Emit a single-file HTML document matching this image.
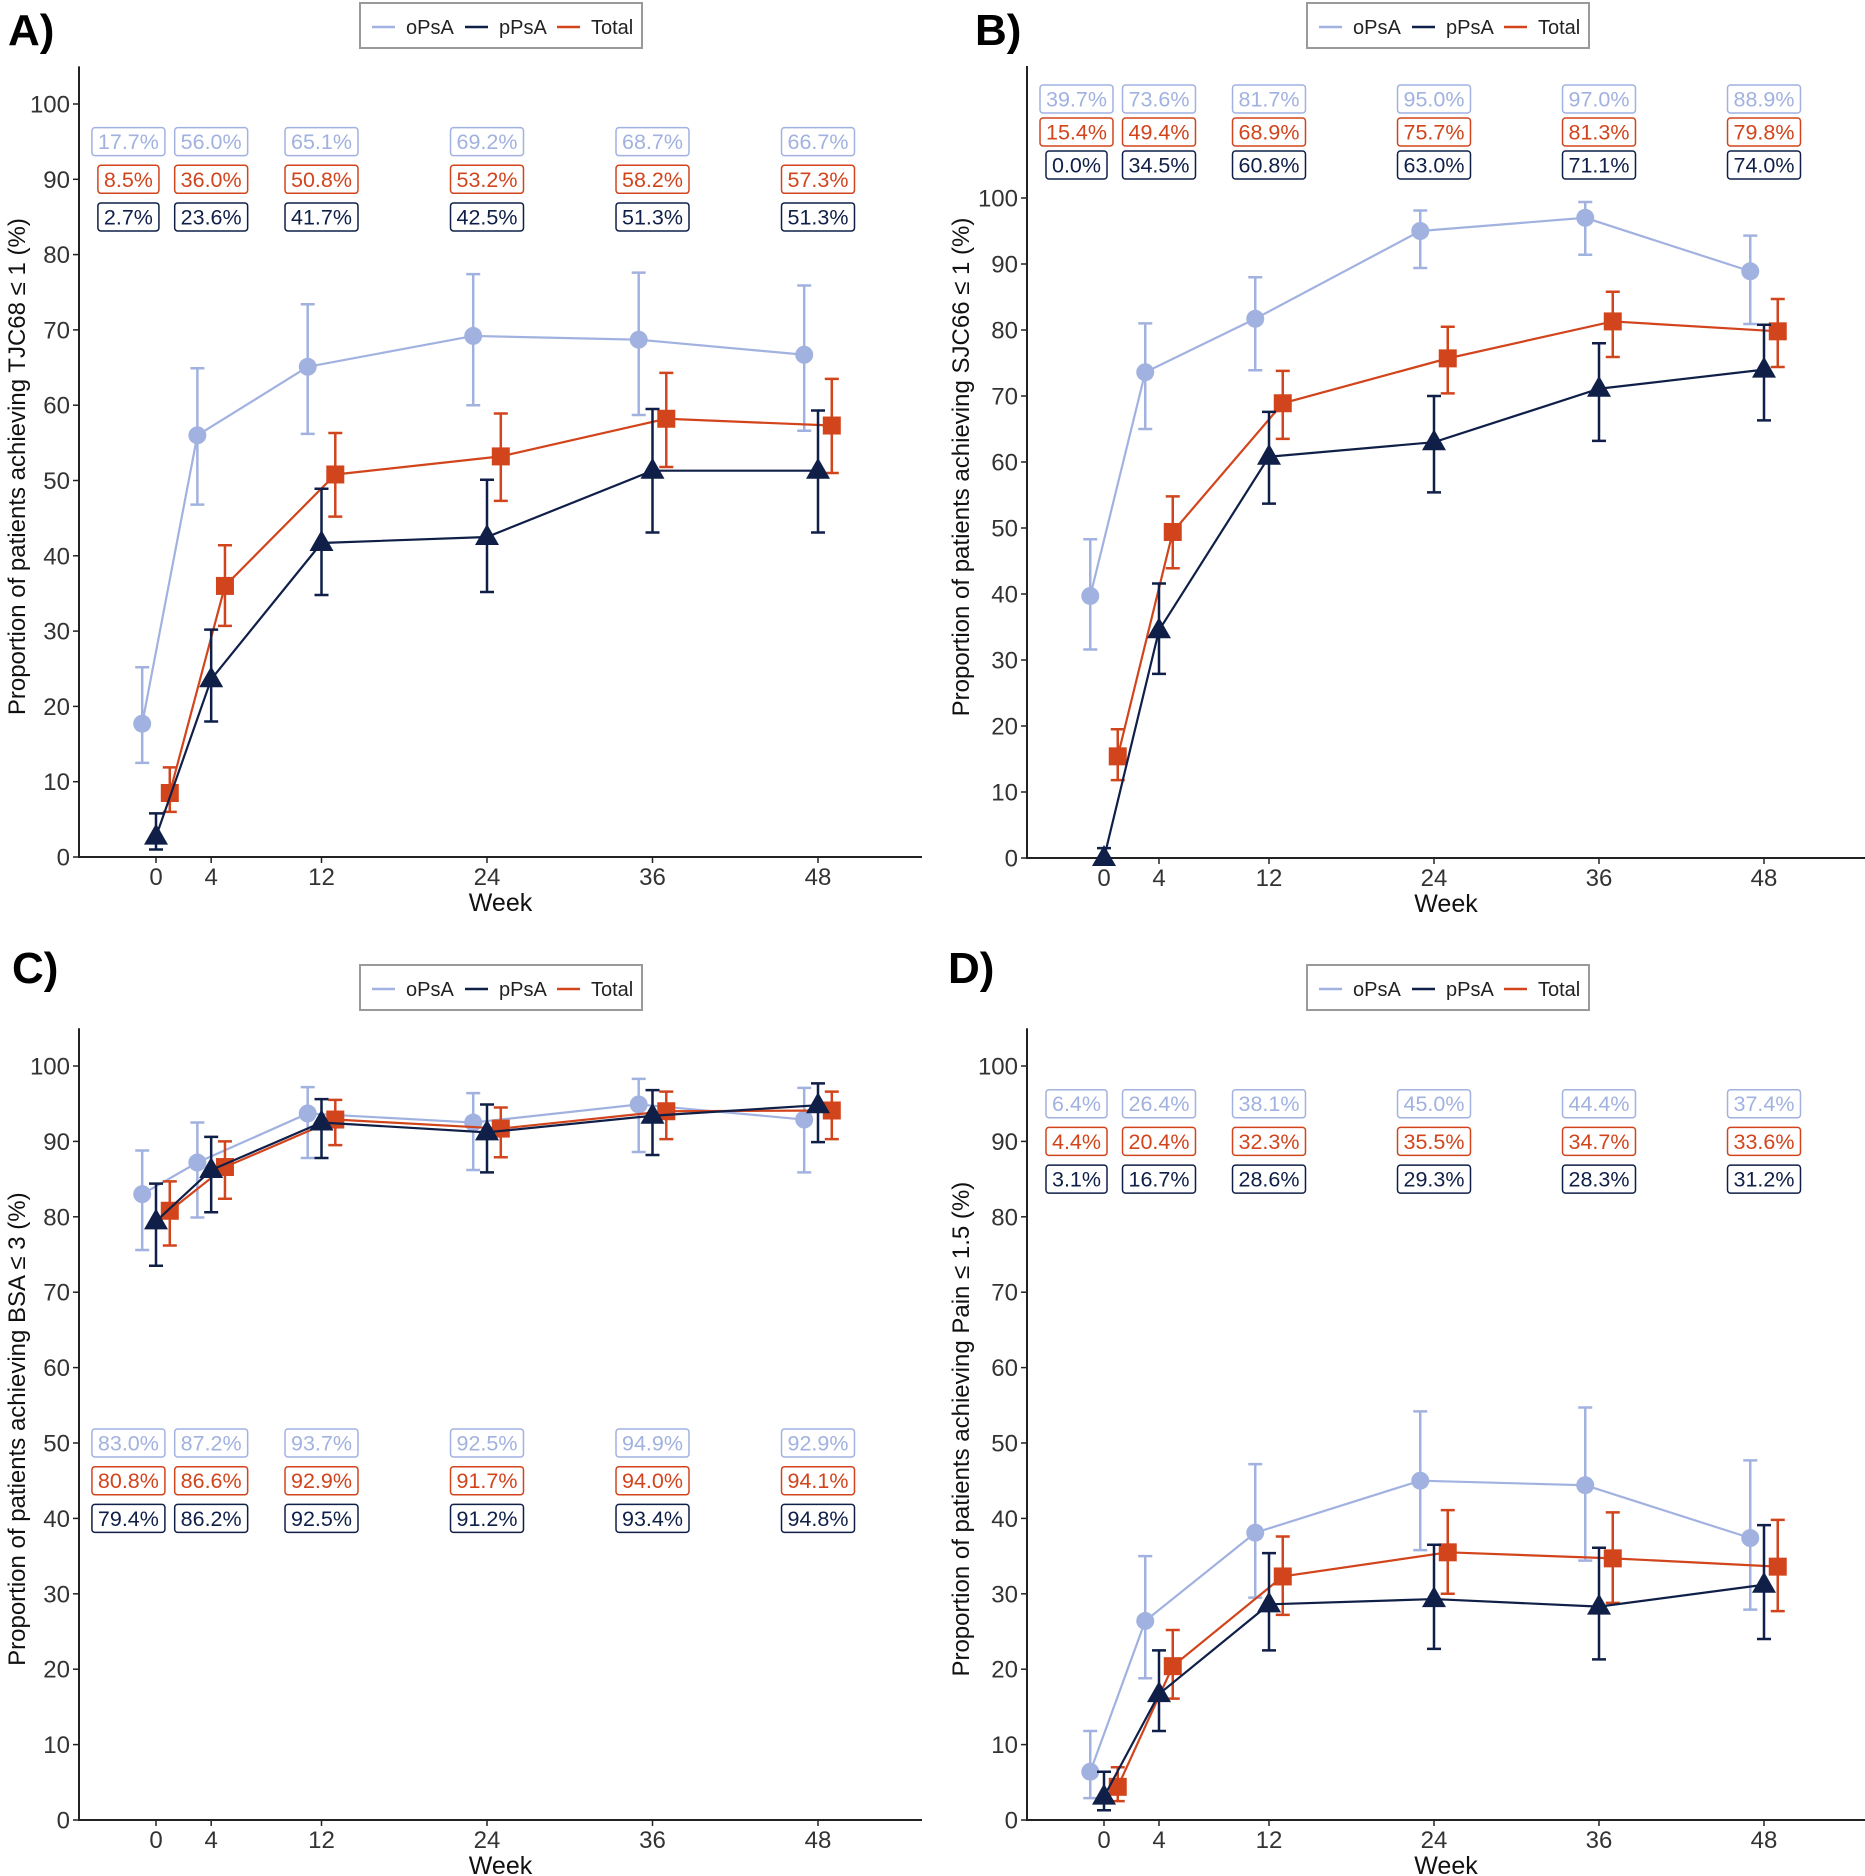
<!DOCTYPE html>
<html><head><meta charset="utf-8"><style>
html,body{margin:0;padding:0;background:#fff;}
svg{display:block;font-family:"Liberation Sans",Arial,sans-serif;}
</style></head><body>
<svg id="chart" width="1865" height="1876" viewBox="0 0 1865 1876" xmlns="http://www.w3.org/2000/svg"></svg>
<script>
const weeks = [0, 4, 12, 24, 36, 48];
const seriesNames = ["oPsA", "pPsA", "Total"];
// Panel A (TJC68)
const aOpsa = [17.7, 56.0, 65.1, 69.2, 68.7, 66.7];
const aOpsaLo = [12.5, 46.8, 56.2, 60.0, 58.7, 56.6];
const aOpsaHi = [25.2, 64.9, 73.4, 77.4, 77.6, 75.9];
const aPpsa = [2.7, 23.6, 41.7, 42.5, 51.3, 51.3];
const aPpsaLo = [1.0, 18.0, 34.8, 35.2, 43.1, 43.1];
const aPpsaHi = [5.8, 30.2, 48.9, 50.1, 59.5, 59.3];
const aTotal = [8.5, 36.0, 50.8, 53.2, 58.2, 57.3];
const aTotalLo = [6.0, 30.7, 45.2, 47.3, 51.8, 51.0];
const aTotalHi = [11.9, 41.4, 56.3, 58.9, 64.3, 63.5];
// Panel B (SJC66)
const bOpsa = [39.7, 73.6, 81.7, 95.0, 97.0, 88.9];
const bOpsaLo = [31.6, 65.0, 73.9, 89.4, 91.4, 80.9];
const bOpsaHi = [48.3, 81.0, 88.0, 98.1, 99.4, 94.3];
const bPpsa = [0.0, 34.5, 60.8, 63.0, 71.1, 74.0];
const bPpsaLo = [0.0, 27.9, 53.7, 55.4, 63.2, 66.3];
const bPpsaHi = [1.5, 41.6, 67.6, 70.0, 78.0, 80.8];
const bTotal = [15.4, 49.4, 68.9, 75.7, 81.3, 79.8];
const bTotalLo = [11.8, 43.9, 63.5, 70.4, 75.9, 74.4];
const bTotalHi = [19.5, 54.8, 73.8, 80.5, 85.8, 84.7];
// Panel C (BSA)
const cOpsa = [83.0, 87.2, 93.7, 92.5, 94.9, 92.9];
const cOpsaLo = [75.6, 79.9, 87.8, 86.2, 88.6, 85.9];
const cOpsaHi = [88.8, 92.5, 97.2, 96.4, 98.3, 97.1];
const cPpsa = [79.4, 86.2, 92.5, 91.2, 93.4, 94.8];
const cPpsaLo = [73.5, 80.6, 87.8, 85.9, 88.2, 89.9];
const cPpsaHi = [84.4, 90.6, 95.6, 94.9, 96.8, 97.7];
const cTotal = [80.8, 86.6, 92.9, 91.7, 94.0, 94.1];
const cTotalLo = [76.2, 82.4, 89.5, 87.9, 90.3, 90.3];
const cTotalHi = [84.7, 90.0, 95.5, 94.5, 96.6, 96.6];
// Panel D (Pain)
const dOpsa = [6.4, 26.4, 38.1, 45.0, 44.4, 37.4];
const dOpsaLo = [2.9, 18.8, 29.5, 35.8, 34.4, 27.9];
const dOpsaHi = [11.8, 35.0, 47.2, 54.2, 54.7, 47.7];
const dPpsa = [3.1, 16.7, 28.6, 29.3, 28.3, 31.2];
const dPpsaLo = [1.3, 11.8, 22.5, 22.7, 21.3, 24.0];
const dPpsaHi = [6.4, 22.5, 35.4, 36.5, 36.1, 39.1];
const dTotal = [4.4, 20.4, 32.3, 35.5, 34.7, 33.6];
const dTotalLo = [2.5, 16.1, 27.2, 30.0, 28.8, 27.7];
const dTotalHi = [7.0, 25.2, 37.6, 41.1, 40.8, 39.8];
const yTicks = [0, 10, 20, 30, 40, 50, 60, 70, 80, 90, 100];

const NS = "http://www.w3.org/2000/svg";
const svg = document.getElementById("chart");
const COL = ["#a2b2e0", "#0f1f48", "#d2441c"];
function mk(tag, attrs, parent) {
  const e = document.createElementNS(NS, tag);
  for (const k in attrs) e.setAttribute(k, attrs[k]);
  (parent || svg).appendChild(e);
  return e;
}
function fmt(v) { return v.toFixed(1) + "%"; }

const panels = [
  {id:"a", letter:"A)", lx:8, ly:45, axL:79, axR:922, w0:156, w48:818, y0:857, y100:104, top:105, rows:[95,90,85], ytitle:"Proportion of patients achieving TJC68 \u2264 1 (%)", tx:17, legX:360, legY:3,
   d:[[aOpsa,aOpsaLo,aOpsaHi],[aPpsa,aPpsaLo,aPpsaHi],[aTotal,aTotalLo,aTotalHi]]},
  {id:"b", letter:"B)", lx:975, ly:45, axL:1027, axR:1865, w0:1104, w48:1764, y0:858, y100:198, top:120, rows:[115,110,105], ytitle:"Proportion of patients achieving SJC66 \u2264 1 (%)", tx:961, legX:1307, legY:3,
   d:[[bOpsa,bOpsaLo,bOpsaHi],[bPpsa,bPpsaLo,bPpsaHi],[bTotal,bTotalLo,bTotalHi]]},
  {id:"c", letter:"C)", lx:12, ly:983, axL:79, axR:922, w0:156, w48:818, y0:1820, y100:1066, top:105, rows:[50,45,40], ytitle:"Proportion of patients achieving BSA \u2264 3 (%)", tx:17, legX:360, legY:965,
   d:[[cOpsa,cOpsaLo,cOpsaHi],[cPpsa,cPpsaLo,cPpsaHi],[cTotal,cTotalLo,cTotalHi]]},
  {id:"d", letter:"D)", lx:948, ly:983, axL:1027, axR:1865, w0:1104, w48:1764, y0:1820, y100:1066, top:105, rows:[95,90,85], ytitle:"Proportion of patients achieving Pain \u2264 1.5 (%)", tx:961, legX:1307, legY:965,
   d:[[dOpsa,dOpsaLo,dOpsaHi],[dPpsa,dPpsaLo,dPpsaHi],[dTotal,dTotalLo,dTotalHi]]}
];

panels.forEach(p => {
  const g = mk("g", {});
  
  
  const X = w => p.w0 + (p.w48 - p.w0) * w / 48;
  const Y = v => p.y0 - (p.y0 - p.y100) * v / 100;
  const lt = mk("text", {x:p.lx, y:p.ly, "font-size":44, "font-weight":"bold", fill:"#000"}, g);
  lt.textContent = p.letter;
  
  
  // legend
  const lg = mk("g", {}, g);
  
  
  mk("rect", {x:p.legX, y:p.legY, width:282, height:45, fill:"#fff", stroke:"#9a9a9a", "stroke-width":2}, lg);
  const offs = [12, 105, 197];
  seriesNames.forEach((n, i) => {
    const e = mk("g", {}, lg);
    
    
    mk("line", {x1:p.legX+offs[i], x2:p.legX+offs[i]+23, y1:p.legY+24, y2:p.legY+24, stroke:COL[i], "stroke-width":2.5}, e);
    const t = mk("text", {x:p.legX+offs[i]+34, y:p.legY+31, "font-size":20, fill:"#222"}, e);
    t.textContent = n;
  });
  // axes
  const yTop = Y(p.top);
  const ax = mk("line", {x1:p.axL, x2:p.axL, y1:yTop, y2:p.y0+1, stroke:"#222", "stroke-width":2}, g);
  
  
  const xa = mk("line", {x1:p.axL-1, x2:p.axR, y1:p.y0, y2:p.y0, stroke:"#222", "stroke-width":2}, g);
  
  
  yTicks.forEach(v => {
    mk("line", {x1:p.axL-6, x2:p.axL, y1:Y(v), y2:Y(v), stroke:"#222", "stroke-width":1.5}, g);
    const t = mk("text", {x:p.axL-9, y:Y(v)+8.5, "font-size":24, "text-anchor":"end", fill:"#333"}, g);
    t.textContent = v;
    
    
  });
  weeks.forEach(w => {
    mk("line", {x1:X(w), x2:X(w), y1:p.y0, y2:p.y0+6, stroke:"#222", "stroke-width":1.5}, g);
    const t = mk("text", {x:X(w), y:p.y0+28, "font-size":24, "text-anchor":"middle", fill:"#333"}, g);
    t.textContent = w;
    
    
  });
  const xt = mk("text", {x:(p.axL+p.axR)/2, y:p.y0+54, "font-size":25, "text-anchor":"middle", fill:"#111"}, g);
  xt.textContent = "Week";
  
  
  const ycen = (p.y0 + yTop) / 2 + 5;
  const yt = mk("text", {x:0, y:0, "font-size":24, "text-anchor":"middle", fill:"#111", transform:`translate(${p.tx+8},${ycen}) rotate(-90)`}, g);
  yt.textContent = p.ytitle;
  
  
  // label boxes
  const rowOrder = [0, 2, 1];
  rowOrder.forEach((si, r) => {
    weeks.forEach((w, k) => {
      const cx = X(w === 0 ? -2 : w), cy = Y(p.rows[r]);
      const bg = mk("g", {}, g);
      
      
      const rect = mk("rect", {y:cy-14, height:28, rx:3, fill:"#fff", stroke:COL[si], "stroke-width":1.5}, bg);
      const t = mk("text", {x:cx, y:cy+7.5, "font-size":21.5, "text-anchor":"middle", fill:COL[si]}, bg);
      t.textContent = fmt(p.d[si][0][k]);
      const tw = t.getComputedTextLength();
      rect.setAttribute("x", cx - tw/2 - 6);
      rect.setAttribute("width", tw + 12);
    });
  });
  // series
  const dodge = [-1, 0, 1];
  [0, 2, 1].forEach(si => {
    const [vals, lo, hi] = p.d[si];
    const sg = mk("g", {}, g);
    
    
    const pts = weeks.map((w, k) => X(w + dodge[si]) + "," + Y(vals[k])).join(" ");
    mk("polyline", {points:pts, fill:"none", stroke:COL[si], "stroke-width":2.2}, sg);
    weeks.forEach((w, k) => {
      const x = X(w + dodge[si]);
      const eb = mk("path", {d:`M${x-7},${Y(hi[k])}H${x+7}M${x},${Y(hi[k])}V${Y(lo[k])}M${x-7},${Y(lo[k])}H${x+7}`, stroke:COL[si], "stroke-width":2.5, fill:"none"}, sg);
      
      
      const y = Y(vals[k]);
      let m;
      if (si === 0) m = mk("circle", {cx:x, cy:y, r:9, fill:COL[0]}, sg);
      else if (si === 2) m = mk("rect", {x:x-9, y:y-9, width:18, height:18, fill:COL[2]}, sg);
      else m = mk("path", {d:`M${x},${y-13}L${x+12},${y+8}L${x-12},${y+8}Z`, fill:COL[1]}, sg);
      
      
    });
  });
});
</script>
</body></html>
